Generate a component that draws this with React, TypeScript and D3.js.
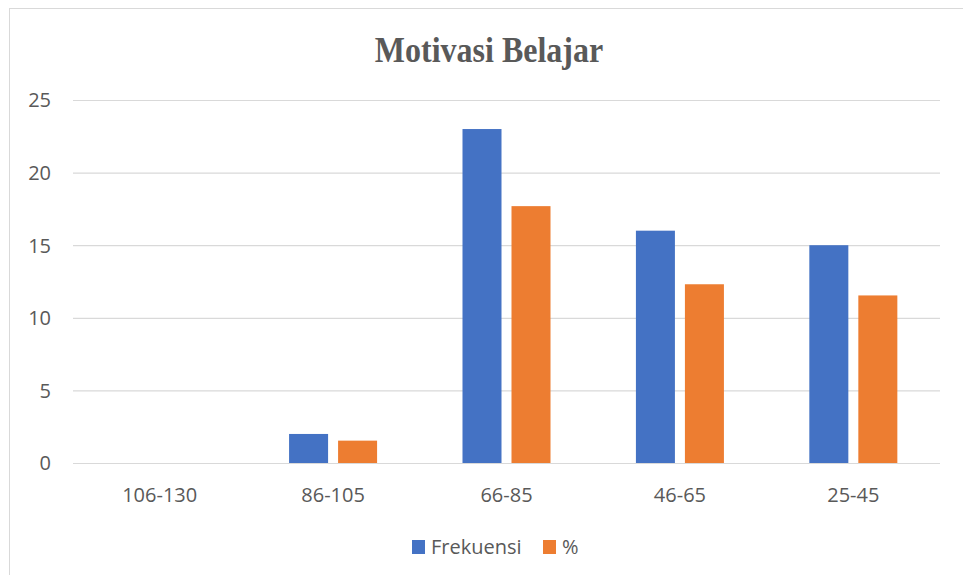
import React, { useEffect, useRef } from 'react';
import * as d3 from 'd3';

const categories = ['106-130', '86-105', '66-85', '46-65', '25-45'];
const frekuensi = [0, 2, 23, 16, 15];
const persen = [0, 1.54, 17.69, 12.31, 11.54];
const seriesNames = ['Frekuensi', '%'];
const yTicks = [0, 5, 10, 15, 20, 25];

const W = 963;
const H = 575;

const App = () => {
  const svgRef = useRef<SVGSVGElement>(null);

  useEffect(() => {
    const svg = d3.select(svgRef.current);
    svg.selectAll('*').remove();

    const margin = { top: 100, right: 23, bottom: 112, left: 73 };
    const innerBottom = H - margin.bottom;
    const colors = ['#4472C4', '#ED7D31'];
    const labelFont = '"Open Sans", "Noto Sans", sans-serif';

    // chart frame
    svg.append('rect')
      .attr('x', 9.5).attr('y', 8.5)
      .attr('width', W + 10).attr('height', H + 10)
      .attr('fill', '#fff')
      .attr('stroke', '#d9d9d9');

    const x = d3.scaleBand()
      .domain(categories)
      .range([margin.left, W - margin.right])
      .paddingInner(0.4925)
      .paddingOuter(0.246);

    const xInner = d3.scaleBand()
      .domain(seriesNames)
      .range([0, x.bandwidth()])
      .paddingInner(0.204);

    const y = d3.scaleLinear()
      .domain([0, 25])
      .range([innerBottom, margin.top]);

    svg.append('text')
      .attr('transform', 'translate(489, 62) scale(1, 1.1)')
      .attr('text-anchor', 'middle')
      .attr('font-family', '"Liberation Serif", "Times New Roman", serif')
      .attr('font-weight', 'bold')
      .attr('font-size', 32)
      .attr('fill', '#595959')
      .text('Motivasi Belajar');

    const yAxis = d3.axisLeft(y).tickValues(yTicks).tickSize(0).tickPadding(0);
    svg.append('g')
      .attr('transform', `translate(${margin.left}, 0)`)
      .call(yAxis)
      .call(g => g.select('.domain').remove())
      .call(g => g.selectAll('.tick line').clone()
        .attr('x2', W - margin.right - margin.left)
        .attr('stroke', '#d9d9d9')
        .attr('stroke-width', 1.2))
      .call(g => g.selectAll('.tick text')
        .attr('x', -22)
        .attr('dy', '0.34em')
        .attr('font-family', labelFont)
        .attr('font-size', 20)
        .attr('fill', '#595959'));

    const groups = svg.append('g')
      .selectAll('g')
      .data(categories)
      .join('g')
      .attr('transform', d => `translate(${x(d)}, 0)`);

    groups.selectAll('rect')
      .data((d, i) => [frekuensi[i], persen[i]].map((v, j) => ({ key: seriesNames[j], v, j })))
      .join('rect')
      .attr('x', d => xInner(d.key)!)
      .attr('y', d => y(d.v))
      .attr('width', xInner.bandwidth())
      .attr('height', d => innerBottom - y(d.v))
      .attr('fill', d => colors[d.j]);

    const xAxis = d3.axisBottom(x).tickSize(0).tickPadding(0);
    svg.append('g')
      .attr('transform', `translate(0, ${innerBottom})`)
      .call(xAxis)
      .call(g => g.select('.domain').remove())
      .call(g => g.selectAll('.tick text')
        .attr('y', 39)
        .attr('dy', 0)
        .attr('font-family', labelFont)
        .attr('font-size', 20)
        .attr('fill', '#595959'));

    // legend
    const legend = svg.append('g').attr('transform', 'translate(412, 540)');
    const legendX = [0, 131];
    seriesNames.forEach((name, i) => {
      legend.append('rect')
        .attr('x', legendX[i]).attr('y', 0)
        .attr('width', 13).attr('height', 14)
        .attr('fill', colors[i]);
      legend.append('text')
        .attr('x', legendX[i] + 19).attr('y', 14)
        .attr('font-family', labelFont)
        .attr('font-size', 20)
        .attr('fill', '#595959')
        .text(name);
    });
  }, []);

  return (
    <div style={{ position: 'absolute', left: 0, top: 0, width: W, height: H, overflow: 'hidden' }}>
      <svg ref={svgRef} width={W} height={H}></svg>
    </div>
  );
};

export default App;
